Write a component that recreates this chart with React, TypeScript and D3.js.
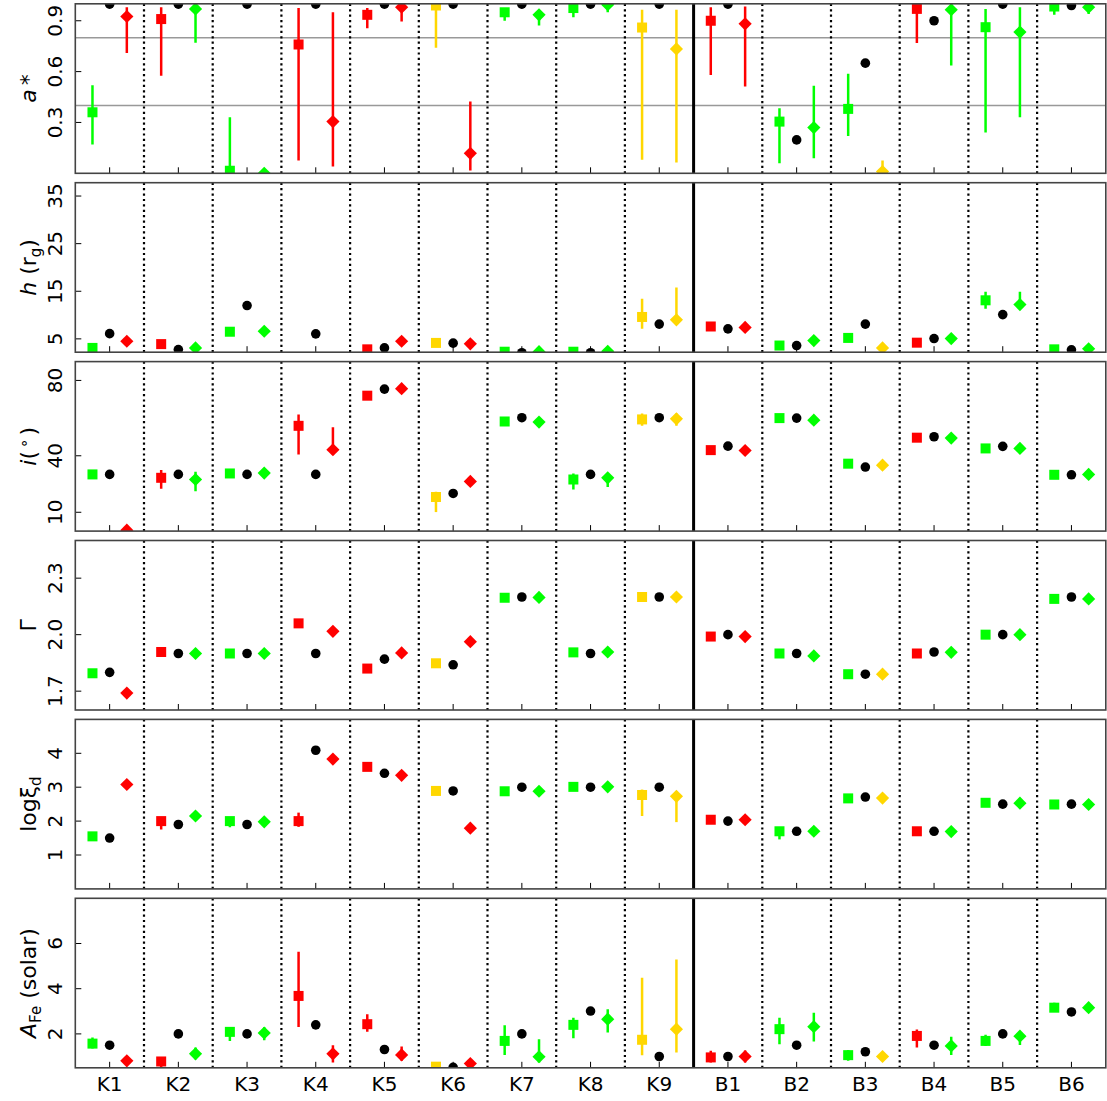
import React from 'react';
import * as d3 from 'd3';

// ---------- categories ----------
const columns = ['K1', 'K2', 'K3', 'K4', 'K5', 'K6', 'K7', 'K8', 'K9', 'B1', 'B2', 'B3', 'B4', 'B5', 'B6'];
// colour class of the square (left) and diamond (right) estimate in every column
const squareClass = ['g', 'r', 'g', 'r', 'r', 'y', 'g', 'g', 'y', 'r', 'g', 'g', 'r', 'g', 'g'];
const diamondClass = ['r', 'g', 'g', 'r', 'r', 'r', 'g', 'g', 'y', 'r', 'g', 'y', 'g', 'g', 'g'];

// ---------- values: [value, low, high] (low/high optional), null = missing ----------
type Pt = number[] | null;

// a*
const aSquare: Pt[] = [[0.36, 0.17, 0.52], [0.91, 0.575, 0.98], [0.015, 0, 0.33], [0.76, 0.075, 0.975], [0.935, 0.856, 0.975], [0.99, 0.74, 1.0], [0.95, 0.9, 0.95], [0.975, 0.92, 0.975], [0.86, 0.08, 0.965], [0.9, 0.58, 0.98], [0.305, 0.059, 0.384], [0.38, 0.22, 0.587], [0.97, 0.768, 0.99], [0.862, 0.24, 0.97], [0.984, 0.935, 0.984]];
const aCircle: number[] = [0.998, 0.998, 0.998, 0.998, 0.998, 0.998, 0.998, 0.998, 0.998, 0.998, 0.197, 0.65, 0.9, 0.998, 0.99];
const aDiamond: Pt[] = [[0.925, 0.71, 0.98], [0.97, 0.77, 1.0], [0.0], [0.305, 0.04, 0.95], [0.98, 0.896, 1.0], [0.118, 0.016, 0.423], [0.935, 0.872, 0.95], [0.995, 0.95, 1.0], [0.734, 0.063, 0.965], [0.882, 0.512, 0.984], [0.27, 0.089, 0.516], [0.01, 0, 0.075], [0.965, 0.636, 1.0], [0.833, 0.33, 0.98], [0.98, 0.94, 1.0]];

// h (r_g)
const hSquare: Pt[] = [[3.1], [3.9], [6.5], null, [2.8], [4.15], [2.3], [2.3], [9.6, 7.1, 13.45], [7.6], [3.6], [5.2], [4.2], [13.1, 11.3, 14.9], [2.8]];
const hCircle: number[] = [6.1, 2.75, 12.0, 6.05, 3.1, 4.1, 2.1, 2.1, 8.1, 7.1, 3.6, 8.1, 5.07, 10.1, 2.7];
const hDiamond: Pt[] = [[4.5], [3.1], [6.6], null, [4.5], [3.95], [2.3], [2.4], [9.0, 8.0, 15.8], [7.4], [4.65], [3.1], [5.07], [12.2, 11.5, 14.9], [2.9]];

// i (deg)
const iSquare: Pt[] = [[30.1], [28.3, 22.5, 32.4], [30.6], [55.9, 40.7, 61.9], [71.9, 71.0, 74.3], [18.1, 10.1, 20.9], [58.2], [27.4, 22.1, 30.6], [59.3, 56.0, 62.5], [43.0], [60.0], [35.8], [49.6], [43.9], [29.9]];
const iCircle: number[] = [30.1, 30.1, 30.1, 30.1, 75.4, 20.0, 60.2, 30.1, 60.2, 45.1, 60.0, 34.0, 50.1, 45.0, 29.9];
const iDiamond: Pt[] = [[0.5], [27.4, 21.2, 31.5], [30.8], [43.2, 40.7, 55.2], [75.6], [26.4], [57.9], [28.3, 23.4, 30.0], [59.6, 56.0, 62.5], [42.8], [58.9], [35.0], [49.4], [43.9], [30.1]];

// Gamma
const gSquare: Pt[] = [[1.795], [1.908], [1.9], [2.06], [1.82], [1.848], [2.196], [1.906], [2.2], [1.99], [1.9], [1.79], [1.9], [2.0], [2.19]];
const gCircle: number[] = [1.8, 1.9, 1.9, 1.9, 1.87, 1.84, 2.2, 1.9, 2.2, 2.0, 1.9, 1.79, 1.908, 2.0, 2.2];
const gDiamond: Pt[] = [[1.69], [1.9], [1.9], [2.018], [1.903], [1.963], [2.198], [1.908], [2.2], [1.99], [1.887], [1.79], [1.906], [2.0], [2.19]];

// log xi_d
const xSquare: Pt[] = [[1.55], [2.0, 1.75, 2.05], [2.0, 1.82, 2.0], [2.0, 1.83, 2.25], [3.6], [2.89], [2.88], [3.01], [2.77, 2.15, 2.93], [2.04], [1.7, 1.46, 1.7], [2.67], [1.7], [2.54], [2.49]];
const xCircle: number[] = [1.5, 1.9, 1.9, 4.09, 3.41, 2.89, 3.0, 3.0, 3.0, 2.0, 1.7, 2.71, 1.7, 2.5, 2.5];
const xDiamond: Pt[] = [[3.08], [2.15], [1.98], [3.83], [3.35], [1.79], [2.88], [3.01], [2.73, 1.97, 2.88], [2.04], [1.7], [2.68], [1.69], [2.53], [2.49]];

// A_Fe (solar)
const fSquare: Pt[] = [[1.57, 1.35, 1.84], [0.78, 0.4, 0.95], [2.09, 1.69, 2.31], [3.68, 2.31, 5.63], [2.43, 2.09, 2.87], [0.55], [1.69, 1.07, 2.38], [2.4, 1.81, 2.72], [1.74, 1.06, 4.49], [0.96, 0.74, 1.25], [2.21, 1.54, 2.72], [1.06, 0.81, 1.29], [1.91, 1.4, 2.2], [1.69, 1.47, 1.96], [3.16, 2.97, 3.38]];
const fCircle: number[] = [1.5, 2.0, 2.0, 2.4, 1.31, 0.52, 2.0, 3.01, 1.0, 1.0, 1.5, 1.21, 1.5, 2.0, 2.97];
const fDiamond: Pt[] = [[0.81], [1.12, 0.88, 1.4], [2.04, 1.72, 2.29], [1.12, 0.73, 1.5], [1.07, 0.81, 1.44], [0.69, 0.5, 0.85], [0.99, 0.74, 1.76], [2.65, 2.06, 3.09], [2.21, 1.18, 5.29], [1.0, 0.74, 1.26], [2.32, 1.66, 2.94], [1.0], [1.47, 1.07, 1.87], [1.9, 1.51, 2.03], [3.16, 2.98, 3.35]];

// axis ranges and ticks
const aDomain = [0, 1]; const aTicks = [0.3, 0.6, 0.9]; const aRefLines = [0.4, 0.8];
const hDomain = [2.2, 37.8]; const hTicks = [5, 15, 25, 35];
const iDomain = [0, 90]; const iTicks = [10, 40, 80];
const gDomain = [1.6, 2.5]; const gTicks = [1.7, 2.0, 2.3];
const xDomain = [0, 5]; const xTicks = [1, 2, 3, 4];
const fDomain = [0.5, 8]; const fTicks = [2, 4, 6];

const colorMap: Record<string, string> = { g: '#00ff00', r: '#ff0000', y: '#ffd700' };

type Panel = {
  key: string; domain: number[]; ticks: number[]; fmt: (v: number) => string;
  label: React.ReactNode; sq: Pt[]; ci: number[]; di: Pt[]; refs?: number[];
};

const panels: Panel[] = [
  { key: 'a', domain: aDomain, ticks: aTicks, fmt: d3.format('.1f'), sq: aSquare, ci: aCircle, di: aDiamond, refs: aRefLines,
    label: (<><tspan fontStyle="italic">a</tspan><tspan dx="4">*</tspan></>) },
  { key: 'h', domain: hDomain, ticks: hTicks, fmt: d3.format('d'), sq: hSquare, ci: hCircle, di: hDiamond,
    label: (<><tspan fontStyle="italic">h</tspan><tspan> (r</tspan><tspan fontSize="15" dy="5">g</tspan><tspan dy="-5">)</tspan></>) },
  { key: 'i', domain: iDomain, ticks: iTicks, fmt: d3.format('d'), sq: iSquare, ci: iCircle, di: iDiamond,
    label: (<><tspan fontStyle="italic">i</tspan><tspan>(</tspan><tspan fontSize="15" dy="-7" dx="3">∘</tspan><tspan dy="7" dx="3">)</tspan></>) },
  { key: 'g', domain: gDomain, ticks: gTicks, fmt: d3.format('.1f'), sq: gSquare, ci: gCircle, di: gDiamond,
    label: (<tspan>Γ</tspan>) },
  { key: 'x', domain: xDomain, ticks: xTicks, fmt: d3.format('d'), sq: xSquare, ci: xCircle, di: xDiamond,
    label: (<><tspan>logξ</tspan><tspan fontSize="15" dy="5">d</tspan></>) },
  { key: 'f', domain: fDomain, ticks: fTicks, fmt: d3.format('d'), sq: fSquare, ci: fCircle, di: fDiamond,
    label: (<><tspan fontStyle="italic">A</tspan><tspan fontSize="15" dy="5">Fe</tspan><tspan dy="-5"> (solar)</tspan></>) },
];

export default function App() {
  const W = 1107, H = 1101;
  const x = d3.scaleLinear().domain([0.5, columns.length + 0.5]).range([75.3, 1105.8]);
  const top0 = 3.8, step = 178.9, ph = 169.5;
  const off = 0.25;
  const sqHalf = 5, cR = 4.8, dHalf = 6.6;
  const diamond = (cx: number, cy: number) =>
    `M${cx},${cy - dHalf}L${cx + dHalf},${cy}L${cx},${cy + dHalf}L${cx - dHalf},${cy}Z`;

  return (
    <div style={{ position: 'absolute', left: 0, top: 0 }}>
      <svg width={W} height={H} style={{ display: 'block', background: '#fff' }} fontFamily="DejaVu Sans">
        {panels.map((p, k) => {
          const t = top0 + k * step, b = t + ph;
          const y = d3.scaleLinear().domain(p.domain).range([b, t]);
          const L = x.range()[0], R = x.range()[1];
          const clipId = `clip-${p.key}`;
          const errBar = (pt: Pt, cx: number, col: string, key: string) =>
            pt && pt.length === 3 ? (
              <line key={key} x1={cx} x2={cx} y1={y(pt[1])} y2={y(pt[2])} stroke={col} strokeWidth={2.5} />
            ) : null;
          return (
            <g key={p.key}>
              <defs>
                <clipPath id={clipId}><rect x={L} y={t} width={R - L} height={ph} /></clipPath>
              </defs>
              {(p.refs || []).map((v) => (
                <line key={`ref${v}`} x1={L} x2={R} y1={y(v)} y2={y(v)} stroke="#999" strokeWidth={1.6} />
              ))}
              {columns.slice(1).map((c, i) => {
                const xv = x(i + 1.5);
                const solid = i + 1 === 9;
                return (
                  <line key={`sep${c}`} x1={xv} x2={xv} y1={t} y2={b} stroke="#000"
                    strokeWidth={solid ? 3 : 2.2} strokeDasharray={solid ? undefined : '2.2,3.2'} />
                );
              })}
              <g clipPath={`url(#${clipId})`}>
                {columns.map((c, i) => {
                  const cx = x(i + 1);
                  const sx = x(i + 1 - off), dx = x(i + 1 + off);
                  const sCol = colorMap[squareClass[i]], dCol = colorMap[diamondClass[i]];
                  const s = p.sq[i], d = p.di[i];
                  return (
                    <g key={`m${c}`}>
                      {errBar(s, sx, sCol, 'se')}
                      {s ? <rect x={sx - sqHalf} y={y(s[0]) - sqHalf} width={sqHalf * 2} height={sqHalf * 2} fill={sCol} /> : null}
                      <circle cx={cx} cy={y(p.ci[i])} r={cR} fill="#000" />
                      {errBar(d, dx, dCol, 'de')}
                      {d ? <path d={diamond(dx, y(d[0]))} fill={dCol} /> : null}
                    </g>
                  );
                })}
              </g>
              {columns.map((c, i) => (
                <line key={`xt${c}`} x1={x(i + 1)} x2={x(i + 1)} y1={b} y2={b - 6} stroke="#000" strokeWidth={1} />
              ))}
              {p.ticks.map((v) => (
                <g key={`yt${v}`}>
                  <line x1={L} x2={L + 6} y1={y(v)} y2={y(v)} stroke="#000" strokeWidth={1} />
                  <text transform={`translate(62,${y(v)}) rotate(-90)`} textAnchor="middle" fontSize={20} fill="#000">
                    {p.fmt(v)}
                  </text>
                </g>
              ))}
              <rect x={L} y={t} width={R - L} height={ph} fill="none" stroke="#444" strokeWidth={1.6} />
              <text transform={`translate(36,${(t + b) / 2}) rotate(-90)`} textAnchor="middle" fontSize={22} fill="#000">
                {p.label}
              </text>
              {k === panels.length - 1
                ? columns.map((c, i) => (
                    <text key={`xl${c}`} x={x(i + 1)} y={b + 23} textAnchor="middle" fontSize={20} fill="#000">{c}</text>
                  ))
                : null}
            </g>
          );
        })}
      </svg>
    </div>
  );
}
